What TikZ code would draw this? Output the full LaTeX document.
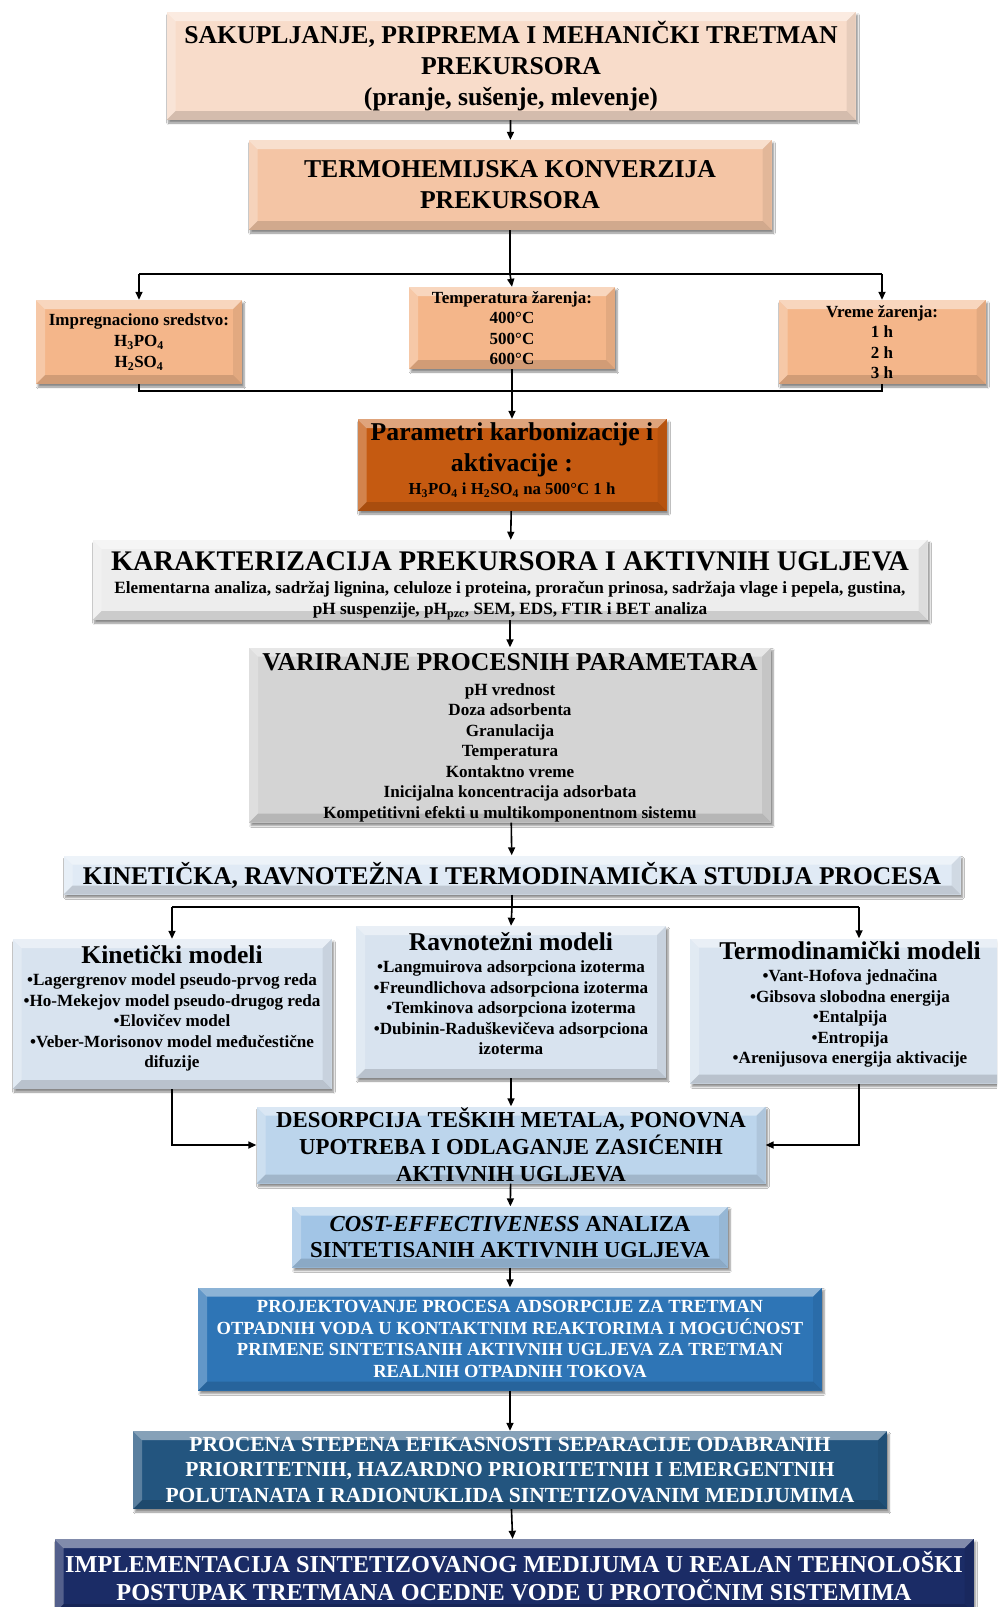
\documentclass[tikz,border=0pt]{standalone}
\usepackage{fontspec}
\setmainfont{Liberation Serif}
\usetikzlibrary{arrows.meta,calc,shadows.blur}
\definecolor{peachlight}{HTML}{F8DCCA}
\definecolor{peach}{HTML}{F4C5A5}
\definecolor{peachmid}{HTML}{F4B68A}
\definecolor{rust}{HTML}{C55A11}
\definecolor{greylight}{HTML}{EDEDED}
\definecolor{greymid}{HTML}{D4D4D4}
\definecolor{icelight}{HTML}{E0EAF5}
\definecolor{icemodel}{HTML}{D8E3EF}
\definecolor{skylight}{HTML}{BCD5EC}
\definecolor{skymid}{HTML}{A2C5E6}
\definecolor{bluemid}{HTML}{2E75B6}
\definecolor{bluedark}{HTML}{23557F}
\definecolor{navy}{HTML}{1B2C66}
\newcommand{\fs}[2]{\fontsize{#1}{#2}\selectfont}

\tikzset{
  bevel/.style={path picture={
    \coordinate (bnw) at (path picture bounding box.north west);
    \coordinate (bne) at (path picture bounding box.north east);
    \coordinate (bsw) at (path picture bounding box.south west);
    \coordinate (bse) at (path picture bounding box.south east);
    \fill[white,opacity=.45] (bnw) -- (bne) -- ([shift={(-#1,-#1)}]bne) -- ([shift={(#1,-#1)}]bnw) -- cycle;
    \fill[white,opacity=.25] (bnw) -- ([shift={(#1,-#1)}]bnw) -- ([shift={(#1,#1)}]bsw) -- (bsw) -- cycle;
    \fill[black,opacity=.14] (bsw) -- ([shift={(#1,#1)}]bsw) -- ([shift={(-#1,#1)}]bse) -- (bse) -- cycle;
    \fill[black,opacity=.07] (bne) -- (bse) -- ([shift={(-#1,#1)}]bse) -- ([shift={(-#1,-#1)}]bne) -- cycle;
  }},
  bevel/.default=9pt,
  stage/.style={rectangle,inner sep=0pt,align=center,font=\bfseries,bevel,
    blur shadow={shadow xshift=2pt,shadow yshift=-3pt,shadow opacity=45,shadow blur steps=6}},
  link/.style={line width=1.6pt,->},
}

\begin{document}
\begin{tikzpicture}[x=1pt,y=-1pt,>={Triangle[length=8pt,width=7pt]}]
  \useasboundingbox (0,0) rectangle (997,1607);
  \fill[white] (0,0) rectangle (997,1607);
  \clip (0,0) rectangle (997,1607);

  % priprema i konverzija
  \node[stage,fill=peachlight,minimum width=689pt,minimum height=108pt,font=\bfseries\fs{25.7}{31}] (sakup) at (511,66)
    {SAKUPLJANJE, PRIPREMA I MEHANIČKI TRETMAN\\PREKURSORA\\(pranje, sušenje, mlevenje)};
  \node[stage,fill=peach,minimum width=523pt,minimum height=90pt,font=\bfseries\fs{25.7}{31}] (termo) at (510,185)
    {TERMOHEMIJSKA KONVERZIJA\\PREKURSORA};

  % parametri
  \node[stage,fill=peachmid,minimum width=206pt,minimum height=84pt,font=\bfseries\fs{17}{21}] (impreg) at (139,342)
    {Impregnaciono sredstvo:\\H\textsubscript{3}PO\textsubscript{4}\\H\textsubscript{2}SO\textsubscript{4}};
  \node[stage,fill=peachmid,minimum width=206pt,minimum height=82pt,font=\bfseries\fs{17}{20.5}] (temp) at (512,328)
    {Temperatura žarenja:\\400°C\\500°C\\600°C};
  \node[stage,fill=peachmid,minimum width=207pt,minimum height=84pt,font=\bfseries\fs{17}{20.5}] (vreme) at (882,342)
    {Vreme žarenja:\\1 h\\2 h\\3 h};
  \node[stage,fill=rust,minimum width=309pt,minimum height=92pt,font=\bfseries\fs{25.7}{31}] (param) at (512,465)
    {Parametri karbonizacije i\\aktivacije :\\[-8pt]{\fs{16.8}{18}H\textsubscript{3}PO\textsubscript{4} i H\textsubscript{2}SO\textsubscript{4} na 500°C 1 h}\\[-19pt]};

  % karakterizacija i variranje
  \node[stage,fill=greylight,minimum width=835pt,minimum height=80pt,font=\bfseries\fs{17.2}{21}] (karak) at (510,580)
    {\\[10pt]{\fs{28.4}{30}KARAKTERIZACIJA PREKURSORA I AKTIVNIH UGLJEVA}\\[2pt]
     Elementarna analiza, sadržaj lignina, celuloze i proteina, proračun prinosa, sadržaja vlage i pepela, gustina,\\
     pH suspenzije, pH\textsubscript{pzc}, SEM, EDS, FTIR i BET analiza};
  \node[stage,fill=greymid,minimum width=522pt,minimum height=175pt,font=\bfseries\fs{17.1}{20.5}] (varir) at (510,735)
    {\\[2.5pt]{\fs{25.7}{28}VARIRANJE PROCESNIH PARAMETARA}\\[4pt]
     pH vrednost\\Doza adsorbenta\\Granulacija\\Temperatura\\Kontaktno vreme\\
     Inicijalna koncentracija adsorbata\\Kompetitivni efekti u multikomponentnom sistemu};

  % studija procesa
  \node[stage,fill=icelight,minimum width=897pt,minimum height=39pt,font=\bfseries\fs{25.5}{28}] (studija) at (512,875)
    {KINETIČKA, RAVNOTEŽNA I TERMODINAMIČKA STUDIJA PROCESA};
  \node[stage,fill=icemodel,minimum width=319pt,minimum height=150pt,font=\bfseries\fs{17.1}{20.5}] (kinmod) at (172,1014)
    {{\fs{25.6}{26}Kinetički modeli}\\[2pt]
     •Lagergrenov model pseudo-prvog reda\\•Ho-Mekejov model pseudo-drugog reda\\
     •Elovičev model\\•Veber-Morisonov model međučestične\\difuzije\\[-5.5pt]};
  \node[stage,fill=icemodel,minimum width=310pt,minimum height=152pt,font=\bfseries\fs{17.1}{20.5}] (ravmod) at (511,1002)
    {{\fs{25.6}{26}Ravnotežni modeli}\\[2pt]
     •Langmuirova adsorpciona izoterma\\•Freundlichova adsorpciona izoterma\\
     •Temkinova adsorpciona izoterma\\•Dubinin-Raduškevičeva adsorpciona\\izoterma\\[-3.5pt]};
  \node[stage,fill=icemodel,minimum width=320pt,minimum height=145pt,font=\bfseries\fs{17.1}{20.5}] (termmod) at (850,1011)
    {{\fs{25.6}{26}Termodinamički modeli}\\[2pt]
     •Vant-Hofova jednačina\\•Gibsova slobodna energija\\
     •Entalpija\\•Entropija\\•Arenijusova energija aktivacije\\[-3.5pt]};

  % primena
  \node[stage,fill=skylight,minimum width=509pt,minimum height=77pt,font=\bfseries\fs{22.8}{27}] (desorp) at (511,1145)
    {DESORPCIJA TEŠKIH METALA, PONOVNA\\UPOTREBA I ODLAGANJE ZASIĆENIH\\AKTIVNIH UGLJEVA};
  \node[stage,fill=skymid,minimum width=436pt,minimum height=61pt,font=\bfseries\fs{22.8}{26}] (cost) at (510,1237)
    {\textit{COST-EFFECTIVENESS} ANALIZA\\SINTETISANIH AKTIVNIH UGLJEVA};
  \node[stage,fill=bluemid,text=white,minimum width=624pt,minimum height=103pt,font=\bfseries\fs{18.5}{21.5}] (projekt) at (510,1339)
    {PROJEKTOVANJE PROCESA ADSORPCIJE ZA TRETMAN\\OTPADNIH VODA U KONTAKTNIM REAKTORIMA I MOGUĆNOST\\
     PRIMENE SINTETISANIH AKTIVNIH UGLJEVA ZA TRETMAN\\REALNIH OTPADNIH TOKOVA};
  \node[stage,fill=bluedark,text=white,minimum width=754pt,minimum height=78pt,font=\bfseries\fs{21.5}{25.5}] (procena) at (510,1470)
    {PROCENA STEPENA EFIKASNOSTI SEPARACIJE ODABRANIH\\PRIORITETNIH, HAZARDNO PRIORITETNIH I EMERGENTNIH\\
     POLUTANATA I RADIONUKLIDA SINTETIZOVANIM MEDIJUMIMA};
  \node[stage,fill=navy,text=white,minimum width=919pt,minimum height=74pt,font=\bfseries\fs{24.3}{28.5}] (implem) at (514,1576)
    {IMPLEMENTACIJA SINTETIZOVANOG MEDIJUMA U REALAN TEHNOLOŠKI\\POSTUPAK TRETMANA OCEDNE VODE U PROTOČNIM SISTEMIMA};

  % veze
  \coordinate (splitA) at (termo.south |- 0,274);
  \coordinate (splitAl) at (impreg.north |- 0,274);
  \coordinate (splitAr) at (vreme.north |- 0,274);
  \coordinate (joinA) at (temp.south |- 0,391);
  \coordinate (splitB) at (studija.south |- 0,907);
  \coordinate (splitBl) at (kinmod.north |- 0,907);
  \coordinate (splitBr) at (859,907);

  \draw[link] (sakup) -- (termo);
  \draw[line width=1.6pt] (termo.south) -- (splitA);
  \draw[line width=1.6pt] (splitAl) -- (splitAr);
  \draw[link] (splitAl) -- (impreg.north);
  \draw[link] (splitA) -- (temp.north);
  \draw[link] (splitAr) -- (vreme.north);
  \draw[line width=1.6pt] (impreg.south) -- (impreg.south |- joinA) -- (vreme.south |- joinA) -- (vreme.south);
  \draw[link] (temp.south) -- (param.north);
  \draw[link] (param) -- (karak);
  \draw[link] (karak) -- (varir);
  \draw[link] (varir) -- (studija);
  \draw[line width=1.6pt] (studija.south) -- (splitB);
  \draw[line width=1.6pt] (splitBl) -- (splitBr);
  \draw[link] (splitBl) -- (kinmod.north);
  \draw[link] (splitB) -- (ravmod.north);
  \draw[link] (splitBr) -- (splitBr |- termmod.north);
  \draw[link] (ravmod) -- (desorp);
  \draw[link] (kinmod.south) |- (desorp.west);
  \draw[link] (termmod.south -| splitBr) |- (desorp.east);
  \draw[link] (desorp) -- (cost);
  \draw[link] (cost) -- (projekt);
  \draw[link] (projekt) -- (procena);
  \draw[link] (procena) -- (implem);
\end{tikzpicture}
\end{document}
